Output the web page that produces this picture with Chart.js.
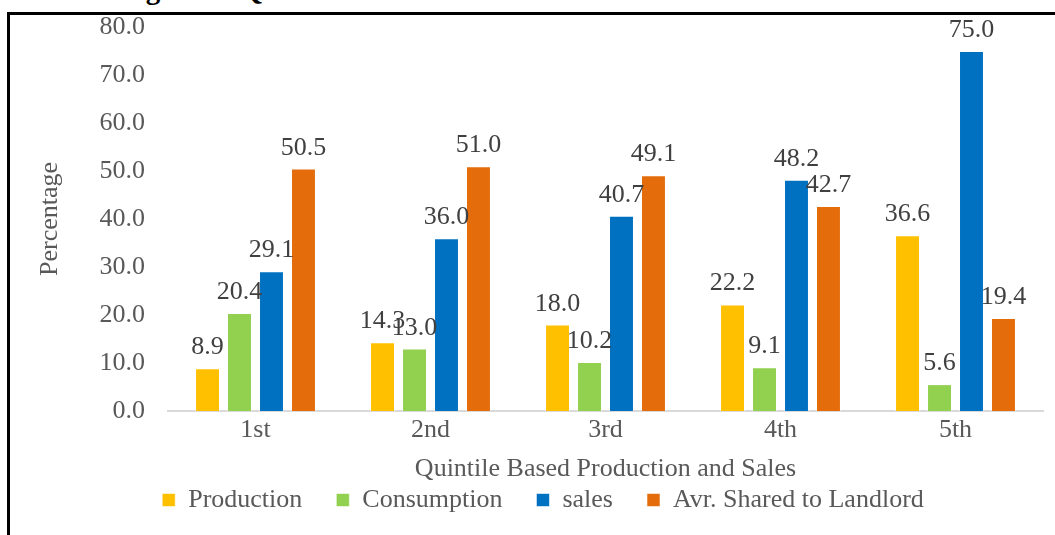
<!DOCTYPE html>
<html>
<head>
<meta charset="utf-8">
<script src="https://cdn.jsdelivr.net/npm/chart.js@4.4.0/dist/chart.umd.min.js"></script>
<style>
  html, body { margin: 0; padding: 0; background: #fff; overflow: hidden; }
  #frame {
    position: absolute; left: 7px; top: 12px; width: 1200px; height: 700px;
    border-left: 3px solid #000; border-top: 3px solid #000;
  }
  #caption {
    position: absolute; left: 120px; top: -27px; line-height: 29px;
    font: bold 29px 'Liberation Serif', 'Times New Roman', serif;
    white-space: nowrap; color: #000;
  }
  #chart { position: absolute; left: 0; top: 0; }
</style>
</head>
<body>
<div id="caption">Figure 4: Quintiles Based Wheat Production and Sales in SNNPR</div>
<div id="frame"></div>
<canvas id="chart" width="1055" height="535"></canvas>
<script>
const quintiles = ['1st', '2nd', '3rd', '4th', '5th'];
const production = [8.9, 14.3, 18.0, 22.2, 36.6];
const consumption = [20.4, 13.0, 10.2, 9.1, 5.6];
const sales = [29.1, 36.0, 40.7, 48.2, 75.0];
const landlordShare = [50.5, 51.0, 49.1, 42.7, 19.4];
const yTicks = [0, 10, 20, 30, 40, 50, 60, 70, 80];

const SERIF = "'Liberation Serif', 'Times New Roman', serif";
const GREY = '#595959';

// value printed above each bar
const valueLabels = {
    id: 'valueLabels',
    afterDatasetsDraw(chart) {
        const ctx = chart.ctx;
        ctx.save();
        ctx.font = '26px ' + SERIF;
        ctx.fillStyle = '#404040';
        ctx.textAlign = 'center';
        ctx.textBaseline = 'alphabetic';
        chart.data.datasets.forEach((ds, i) => {
            chart.getDatasetMeta(i).data.forEach((bar, j) => {
                ctx.fillText(ds.data[j].toFixed(1), bar.x, bar.y - 14);
            });
        });
        ctx.restore();
    }
};

const series = [
    { label: 'Production', data: production, color: '#FFC000' },
    { label: 'Consumption', data: consumption, color: '#92D050' },
    { label: 'sales', data: sales, color: '#0070C0' },
    { label: 'Avr. Shared to Landlord', data: landlordShare, color: '#E46C0A' },
];

new Chart(document.getElementById('chart'), {
    type: 'bar',
    data: {
        labels: quintiles,
        datasets: series.map(s => ({
            label: s.label,
            data: s.data,
            backgroundColor: s.color,
            borderColor: 'rgba(255,255,255,0.55)',
            borderWidth: 1,
            categoryPercentage: 0.731,
            barPercentage: 0.78,
        }))
    },
    options: {
        responsive: false,
        animation: false,
        events: [],
        layout: { padding: { left: 43, right: 12, top: 27, bottom: 12 } },
        scales: {
            x: {
                grid: { display: false, drawTicks: false },
                border: { display: true, color: '#D9D9D9', width: 2 },
                ticks: { color: GREY, font: { family: SERIF, size: 26 }, padding: 4 },
                title: {
                    display: true,
                    text: 'Quintile Based Production and Sales',
                    color: GREY,
                    font: { family: SERIF, size: 26 },
                    padding: { top: 3.2, bottom: -31.6 }
                }
            },
            y: {
                min: yTicks[0],
                max: yTicks[yTicks.length - 1],
                // invisible tick marks keep the labels clear of the plot
                grid: { display: false, drawTicks: true, tickLength: 20 },
                border: { display: false },
                ticks: {
                    stepSize: yTicks[1] - yTicks[0],
                    color: GREY,
                    font: { family: SERIF, size: 26 },
                    padding: 3,
                    callback: v => v.toFixed(1)
                },
                title: {
                    display: true,
                    text: 'Percentage',
                    color: GREY,
                    font: { family: SERIF, size: 26 },
                    padding: { top: -8, bottom: 30.3 }
                }
            }
        },
        plugins: {
            tooltip: { enabled: false },
            legend: {
                position: 'bottom',
                labels: {
                    color: GREY,
                    font: { family: SERIF, size: 26 },
                    boxWidth: 13,
                    boxHeight: 13,
                    padding: 34
                }
            }
        }
    },
    plugins: [valueLabels]
});
</script>
</body>
</html>
